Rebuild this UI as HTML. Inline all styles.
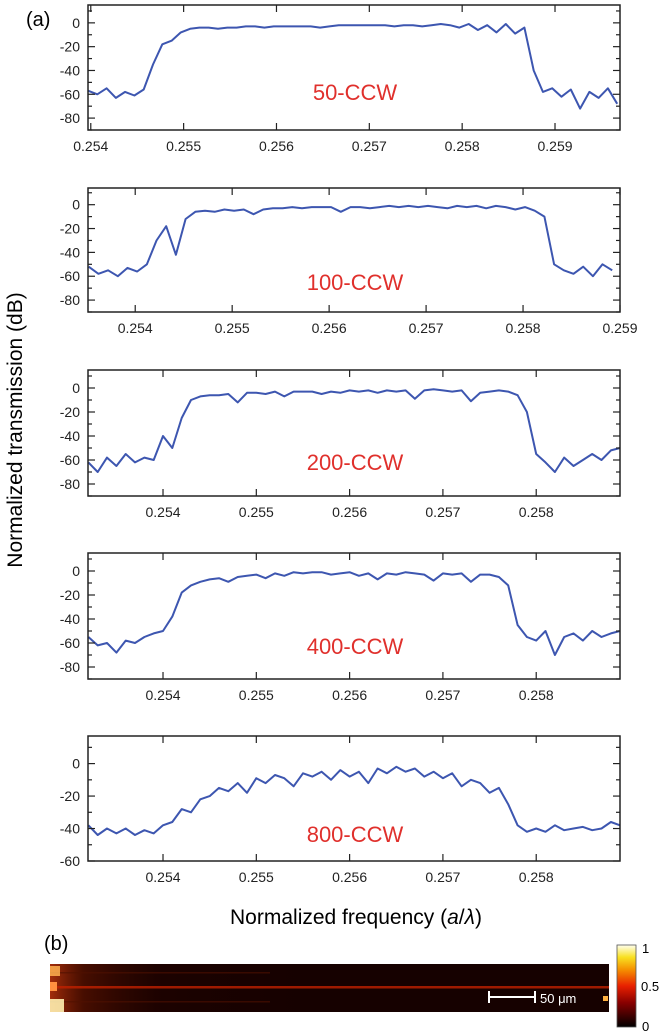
<!DOCTYPE html>
<html><head><meta charset="utf-8"><style>
body{margin:0;background:#fff;width:666px;height:1035px;overflow:hidden}
svg{display:block;font-family:"Liberation Sans",sans-serif}
</style></head><body>
<svg id="fig" width="666" height="1035" viewBox="0 0 666 1035">
<defs>
<linearGradient id="cbar" x1="0" y1="1" x2="0" y2="0">
<stop offset="0" stop-color="#000"/><stop offset="0.3" stop-color="#8a0000"/><stop offset="0.5" stop-color="#e82000"/><stop offset="0.7" stop-color="#f59000"/><stop offset="0.85" stop-color="#f8e020"/><stop offset="1" stop-color="#fffff0"/>
</linearGradient>
<linearGradient id="glow" x1="0" y1="0" x2="1" y2="0">
<stop offset="0" stop-color="#e04010" stop-opacity="0.7"/><stop offset="0.06" stop-color="#902000" stop-opacity="0.4"/><stop offset="0.2" stop-color="#400800" stop-opacity="0.15"/><stop offset="0.5" stop-color="#200000" stop-opacity="0"/>
</linearGradient>
</defs>
<text x="26" y="26" font-size="20">(a)</text>
<text transform="translate(22,430) rotate(-90)" text-anchor="middle" font-size="21">Normalized transmission (dB)</text>
<text x="356" y="924" text-anchor="middle" font-size="21">Normalized frequency (<tspan font-style="italic">a</tspan>/<tspan font-style="italic">λ</tspan>)</text>
<text x="44" y="950" font-size="20">(b)</text>
<g>
<rect x="50" y="964" width="559" height="48" fill="#160100"/>
<rect x="50" y="964" width="559" height="48" fill="url(#glow)"/>
<rect x="50" y="986" width="559" height="2.5" fill="#c02000" opacity="0.8"/>
<rect x="50" y="972" width="220" height="1.5" fill="#501000" opacity="0.6"/>
<rect x="50" y="1001" width="220" height="1.5" fill="#501000" opacity="0.6"/>
<rect x="50" y="966" width="10" height="10" fill="#ffb050" opacity="0.85"/>
<rect x="50" y="999" width="14" height="13" fill="#fff0b0" opacity="0.9"/>
<rect x="50" y="982" width="7" height="9" fill="#ff9040"/>
<rect x="603" y="996" width="5" height="5" fill="#ffb040"/>
<rect x="488" y="996" width="48" height="2" fill="#fff"/>
<rect x="488" y="991" width="2" height="12" fill="#fff"/>
<rect x="534" y="991" width="2" height="12" fill="#fff"/>
<text x="540" y="1003" font-size="13" fill="#fff">50 μm</text>
</g>
<g>
<rect x="617" y="945" width="19" height="82" fill="url(#cbar)" stroke="#555" stroke-width="0.8"/>
<text x="642" y="953" font-size="13">1</text>
<text x="641" y="991" font-size="13">0.5</text>
<text x="642" y="1031" font-size="13">0</text>
</g>
</svg>
<script>
const freqStep = 0.0001;
const p1Start = 0.25397;
const p1Values = [-57,-60,-55,-63,-58,-61,-56,-35,-18,-15,-8,-5,-4,-4,-5,-4,-4,-3,-3,-4,-3,-3,-3,-3,-3,-4,-3,-2,-2,-2,-2,-2,-2,-3,-2,-2,-3,-2,-1,-2,-4,-1,-6,-2,-8,-1,-9,-4,-40,-58,-55,-62,-56,-72,-58,-63,-55,-68];
const p2Start = 0.25352;
const p2Values = [-52,-58,-55,-60,-53,-56,-50,-30,-18,-42,-12,-6,-5,-6,-4,-5,-4,-8,-4,-3,-3,-2,-3,-2,-2,-2,-6,-2,-2,-3,-2,-1,-2,-1,-2,-1,-2,-3,-1,-2,-1,-3,-1,-2,-4,-2,-5,-10,-50,-55,-58,-52,-60,-50,-55];
const p3Start = 0.2532;
const p3Values = [-62,-70,-58,-65,-55,-62,-58,-60,-40,-50,-25,-10,-7,-6,-6,-5,-12,-4,-4,-5,-3,-7,-3,-3,-3,-5,-3,-4,-2,-3,-2,-4,-2,-3,-2,-9,-2,-1,-2,-3,-2,-11,-4,-3,-2,-3,-6,-20,-55,-62,-70,-58,-65,-60,-55,-60,-52,-50];
const p4Start = 0.2532;
const p4Values = [-55,-62,-60,-68,-58,-60,-55,-52,-50,-38,-18,-12,-9,-7,-6,-9,-5,-4,-3,-6,-2,-4,-1,-2,-1,-1,-3,-2,-1,-4,-2,-7,-2,-3,-1,-2,-3,-8,-2,-3,-2,-9,-3,-3,-5,-12,-45,-55,-58,-50,-70,-55,-52,-58,-50,-55,-52,-50];
const p5Start = 0.2532;
const p5Values = [-38,-44,-40,-43,-40,-44,-41,-43,-38,-36,-28,-30,-22,-20,-15,-17,-12,-18,-9,-12,-7,-9,-14,-6,-8,-5,-10,-4,-8,-5,-12,-3,-6,-2,-5,-3,-8,-5,-9,-6,-14,-10,-12,-18,-15,-25,-38,-42,-40,-42,-38,-41,-40,-39,-41,-40,-36,-38];
const yTicksA = [0,-20,-40,-60,-80];
const yTicksB = [0,-20,-40,-60];
const xTicks1 = ["0.254","0.255","0.256","0.257","0.258","0.259"];
const xTicks2 = ["0.254","0.255","0.256","0.257","0.258","0.259"];
const xTicks3 = ["0.254","0.255","0.256","0.257","0.258"];
const labels = ["50-CCW","100-CCW","200-CCW","400-CCW","800-CCW"];

const NS="http://www.w3.org/2000/svg";
const svg=document.getElementById('fig');
const L=88,R=620;
const panels=[
 {top:5,bot:130,ymin:-90,ymax:15,xmin:0.25397,xmax:0.2597,start:p1Start,vals:p1Values,yt:yTicksA,xt:xTicks1,ly:100},
 {top:188,bot:312,ymin:-90,ymax:14,xmin:0.253513,xmax:0.259,start:p2Start,vals:p2Values,yt:yTicksA,xt:xTicks2,ly:290},
 {top:370,bot:496,ymin:-90,ymax:15,xmin:0.253196,xmax:0.258898,start:p3Start,vals:p3Values,yt:yTicksA,xt:xTicks3,ly:470},
 {top:553,bot:679,ymin:-90,ymax:15,xmin:0.253196,xmax:0.258898,start:p4Start,vals:p4Values,yt:yTicksA,xt:xTicks3,ly:654},
 {top:736,bot:861,ymin:-60,ymax:17,xmin:0.253196,xmax:0.258898,start:p5Start,vals:p5Values,yt:yTicksB,xt:xTicks3,ly:842}
];
function mk(tag,attrs,parent){const e=document.createElementNS(NS,tag);for(const k in attrs)e.setAttribute(k,attrs[k]);(parent||svg).appendChild(e);return e;}
panels.forEach((p,i)=>{
 const g=mk('g',{});
 
 
 const xs=f=>L+(f-p.xmin)/(p.xmax-p.xmin)*(R-L);
 const ys=v=>p.bot-(v-p.ymin)/(p.ymax-p.ymin)*(p.bot-p.top);
 let d='';
 p.vals.forEach((v,j)=>{const f=p.start+j*freqStep;const x=Math.min(R,Math.max(L,xs(f)));d+=(j?'L':'M')+x.toFixed(1)+','+ys(v).toFixed(1);});
 const line=mk('path',{d:d,fill:'none',stroke:'#3d56b0','stroke-width':2,'stroke-linejoin':'round'},g);
 
 
 mk('rect',{x:L,y:p.top,width:R-L,height:p.bot-p.top,fill:'none',stroke:'#222','stroke-width':1.5},g);
 for(let v=p.ymin;v<=p.ymax;v+=10){
  const major=v%20===0;const len=major?7:4;
  mk('line',{x1:L,x2:L+len,y1:ys(v),y2:ys(v),stroke:'#222','stroke-width':1.2},g);
  mk('line',{x1:R,x2:R-len,y1:ys(v),y2:ys(v),stroke:'#222','stroke-width':1.2},g);
 }
 p.yt.forEach(v=>{
  const t=mk('text',{x:80,y:ys(v)+5,'text-anchor':'end','font-size':14,fill:'#222'},g);
  
  
  t.textContent=v;
 });
 p.xt.forEach(s=>{
  const x=xs(parseFloat(s));
  mk('line',{x1:x,x2:x,y1:p.bot,y2:p.bot-7,stroke:'#222','stroke-width':1.2},g);
  mk('line',{x1:x,x2:x,y1:p.top,y2:p.top+7,stroke:'#222','stroke-width':1.2},g);
  const t=mk('text',{x:x,y:p.bot+21,'text-anchor':'middle','font-size':14,fill:'#222'},g);
  
  
  t.textContent=s;
 });
 const lb=mk('text',{x:355,y:p.ly,'text-anchor':'middle','font-size':22,fill:'#e0302c'},g);
 
 
 lb.textContent=labels[i];
});
</script>
</body></html>
